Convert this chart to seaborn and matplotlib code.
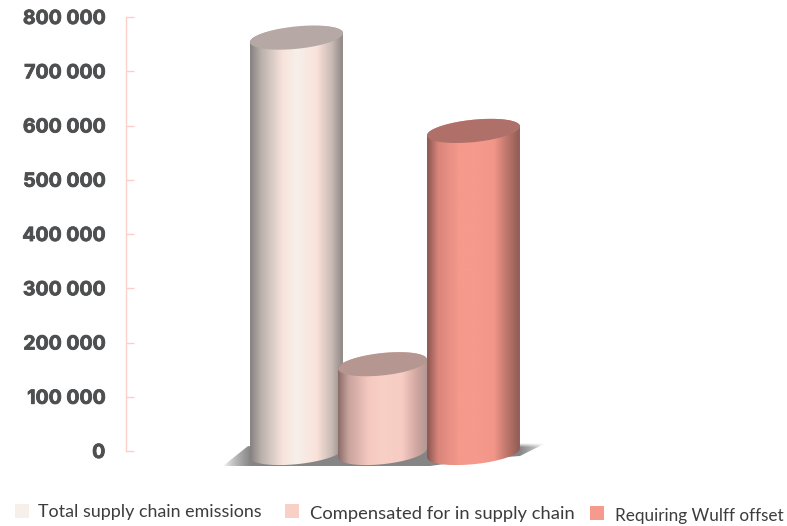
import matplotlib
matplotlib.use('Agg')
import matplotlib.patheffects as pe
import matplotlib.pyplot as plt
from matplotlib.colors import LinearSegmentedColormap
from matplotlib.patches import Polygon, Rectangle
from matplotlib.path import Path
import numpy as np
import seaborn as sns

categories = ['Total supply chain emissions', 'Compensated for in supply chain', 'Requiring Wulff offset']
values = [762000, 160000, 590000]
tick_values = [0, 100000, 200000, 300000, 400000, 500000, 600000, 700000, 800000]
tick_labels = ['0', '100 000', '200 000', '300 000', '400 000', '500 000', '600 000', '700 000', '800 000']

base_colors = ['#f7f0ea', '#f8d0c6', '#f59a8c']
cap_colors = ['#b5a8a5', '#b59690', '#b0706a']
side_colors = [
    ['#858080', '#b9b0ac', '#f8e3dc', '#f6f0ea', '#fae2da', '#c9bab5', '#8f8784'],
    ['#8a6c68', '#c9a39d', '#f6c9c0', '#f8d0c6', '#f6ccc3', '#d3a8a3', '#b39793'],
    ['#8a5650', '#d9857a', '#f59a8c', '#f59a8c', '#f3968a', '#b87268', '#8e5c55'],
]
side_stops = [0, 0.12, 0.35, 0.5, 0.72, 0.88, 1]

W, H = 787, 526
sns.set_style('white')
plt.rcParams['font.family'] = ['Inter', 'DejaVu Sans']

fig = plt.figure(figsize=(W / 100, H / 100), dpi=100)
ax = fig.add_axes([126 / W, (H - 451) / H, (W - 126) / W, 434 / H])

sns.barplot(x=categories, y=values, hue=categories, palette=base_colors, width=1.05,
            dodge=False, legend=False, ax=ax)

# px per unit on each axis, cylinders are built from the bar rectangles
px_x = 88.5
px_y = 434 / 800000
ax.set_xlim((126 - 296.5) / px_x, (W - 296.5) / px_x)
ax.set_ylim(0, 800000)
depth = 11.2 / px_y
tilt = 4.5 / px_y
drop = 2 / px_y

ax.set_yticks(tick_values)
ax.set_yticklabels(tick_labels, fontsize=14, fontweight='bold', color='#4d4f50')
# the original face is heavier than Inter bold
for lab in ax.get_yticklabels():
    lab.set_path_effects([pe.withStroke(linewidth=0.6, foreground='#4d4f50')])
ax.set_xticks([])
ax.tick_params(axis='y', direction='in', length=6, width=1, color='#fbd0ca', pad=15, left=True)
for side in ['top', 'right', 'bottom']:
    ax.spines[side].set_visible(False)
ax.spines['left'].set_color('#fbd0ca')
ax.spines['left'].set_linewidth(1)
ax.grid(False)

bars = list(ax.patches)
for b in bars:
    b.set_visible(False)


def gradient(xmin, xmax, ymin, ymax, cmap, clip, z):
    im = ax.imshow(np.linspace(0, 1, 256).reshape(1, -1), cmap=cmap, aspect='auto',
                   extent=(xmin, xmax, ymin, ymax), zorder=z, interpolation='bilinear')
    im.set_clip_box(fig.bbox)
    im.set_clip_path(Path(clip), ax.transData)
    return im


# soft shadow under the group, fades out at both ends and along the top
left = bars[0].get_x()
right = bars[2].get_x() + bars[2].get_width()
floor = -15 / px_y
shadow = np.array([
    [left - 27 / px_x, floor],
    [left - 2 / px_x, 5 / px_y],
    [right, 8 / px_y],
    [right + 26 / px_x, 8 / px_y],
    [right, -5 / px_y],
    [right - 40 / px_x, -8 / px_y],
    [right - 90 / px_x, floor],
])
sx0, sx1 = left - 27 / px_x, right + 26 / px_x
xs = np.linspace(sx0, sx1, 400)
ys = np.linspace(8 / px_y, floor, 60)
fade_x = np.clip((xs - sx0) / (27 / px_x), 0, 1) * np.clip((sx1 - xs) / (26 / px_x), 0, 1)
fade_y = np.clip((8 / px_y - ys) / (4 / px_y), 0, 1)
shade = np.zeros((60, 400, 4))
shade[..., :3] = 0.5
shade[..., 3] = np.outer(fade_y, fade_x ** 0.7) * 0.95
sh = ax.imshow(shade, aspect='auto', extent=(sx0, sx1, floor, 8 / px_y), zorder=1, interpolation='bilinear')
sh.set_clip_box(fig.bbox)
sh.set_clip_path(Path(shadow), ax.transData)

t_low = np.linspace(np.pi, 2 * np.pi, 60)
t_up = np.linspace(0, np.pi, 60)
t_all = np.linspace(0, 2 * np.pi, 120)
for i, b in enumerate(bars):
    a = b.get_width() / 2
    cx = b.get_x() + a
    # middle bar is a little narrower and sits slightly left in the picture
    if i == 1:
        a = 44.5 / px_x
        cx -= 2.5 / px_x
    top = b.get_height()
    low = -drop
    lower = np.column_stack([cx + a * np.cos(t_low), low + tilt * np.cos(t_low) + depth * np.sin(t_low)])
    upper = np.column_stack([cx + a * np.cos(t_up), top + tilt * np.cos(t_up) + depth * np.sin(t_up)])
    cmap = LinearSegmentedColormap.from_list('side%d' % i, list(zip(side_stops, side_colors[i])))
    gradient(cx - a, cx + a, low - 2 * depth, top + 2 * depth, cmap, np.vstack([lower, upper]), 2 + i)
    cap = np.column_stack([cx + a * np.cos(t_all), top + tilt * np.cos(t_all) + depth * np.sin(t_all)])
    ax.add_patch(Polygon(cap, closed=True, facecolor=cap_colors[i], edgecolor='none', zorder=2.5 + i, clip_on=False))

ax.set_xlim((126 - 296.5) / px_x, (W - 296.5) / px_x)
ax.set_ylim(0, 800000)

# legend entries step down slightly in the original
square_x = [15, 285, 590]
square_y = [504, 504, 506]
text_x = [38, 310, 615]
text_y = [511.5, 513.5, 515.5]
text_size = [12.9, 13.2, 12.3]
for i, name in enumerate(categories):
    fig.patches.append(Rectangle((square_x[i] / W, 1 - (square_y[i] + 14) / H), 14 / W, 14 / H,
                                 transform=fig.transFigure, facecolor=base_colors[i], edgecolor='none'))
    fig.text(text_x[i] / W, 1 - text_y[i] / H, name, fontsize=text_size[i], family=['Lato', 'DejaVu Sans'],
             color='#3c3c3c', va='center', ha='left')

plt.savefig('out.png', dpi=100)
